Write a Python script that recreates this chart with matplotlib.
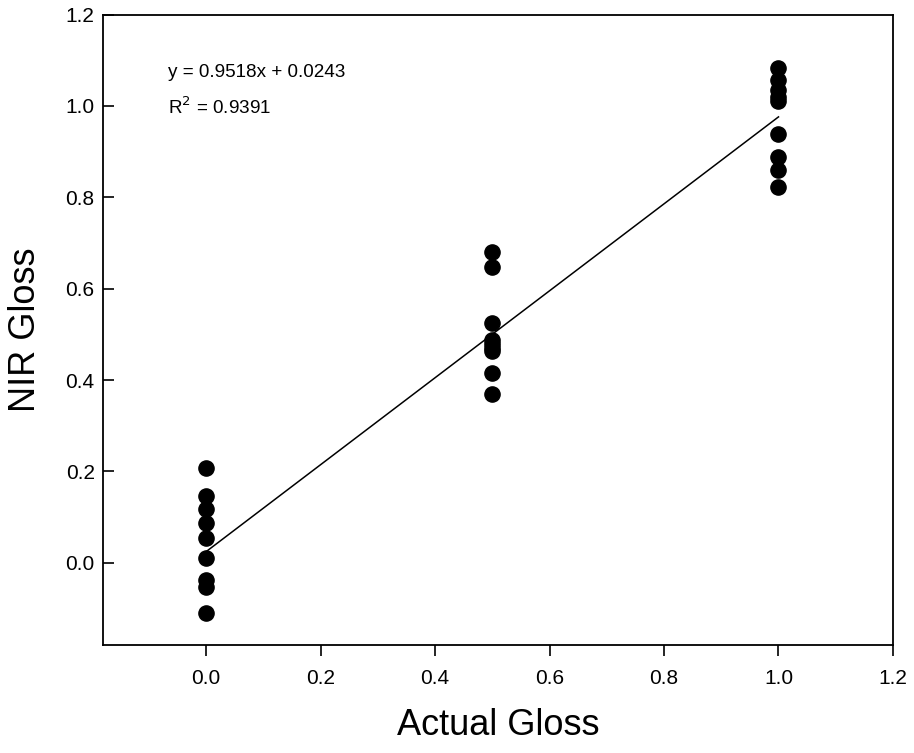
import numpy as np
import matplotlib.pyplot as plt

plt.rcParams['font.family'] = ['Liberation Sans', 'DejaVu Sans']

# actual gloss levels and NIR predicted gloss
actual_0 = [0.0] * 9
nir_0 = [0.207, 0.147, 0.117, 0.087, 0.055, 0.011, -0.037, -0.052, -0.109]
actual_05 = [0.5] * 9
nir_05 = [0.681, 0.648, 0.524, 0.487, 0.478, 0.470, 0.463, 0.415, 0.370]
actual_1 = [1.0] * 9
nir_1 = [1.083, 1.057, 1.035, 1.020, 1.011, 0.939, 0.888, 0.860, 0.823]

slope = 0.9518
intercept = 0.0243
r2 = 0.9391

x = np.array(actual_0 + actual_05 + actual_1)
y = np.array(nir_0 + nir_05 + nir_1)

fig = plt.figure(figsize=(9.14, 7.53), dpi=100)
ax = fig.add_axes([0.1127, 0.1434, 0.977 - 0.1127, 0.9806 - 0.1434])

ax.scatter(x, y, s=120, color='black', zorder=3)

xl = np.array([0.0, 1.0])
ax.plot(xl, slope * xl + intercept, color='black', lw=1.1, zorder=2)

ax.set_xlim(-0.18, 1.2)
ax.set_ylim(-0.18, 1.2)
ticks = [0.0, 0.2, 0.4, 0.6, 0.8, 1.0, 1.2]
ax.set_xticks(ticks)
ax.set_yticks(ticks)
ax.set_xticklabels(['%.1f' % t for t in ticks])
ax.set_yticklabels(['%.1f' % t for t in ticks])
ax.tick_params(axis='x', direction='out', length=8, width=1.2, labelsize=15, pad=9)
ax.tick_params(axis='y', direction='in', length=8, width=1.2, labelsize=15, pad=6)
for s in ax.spines.values():
    s.set_linewidth(1.3)

ax.set_xlabel('Actual Gloss', fontsize=26, labelpad=15)
ax.set_ylabel('NIR Gloss', fontsize=26, labelpad=16)

ax.text(-0.066, 1.074, 'y = %.4fx + %.4f' % (slope, intercept), fontsize=13.6, va='center')
ax.text(-0.066, 0.998, r'R$^2$ = %.4f' % r2, fontsize=13.6, va='center')

fig.savefig('out.png', dpi=100)
plt.close(fig)
